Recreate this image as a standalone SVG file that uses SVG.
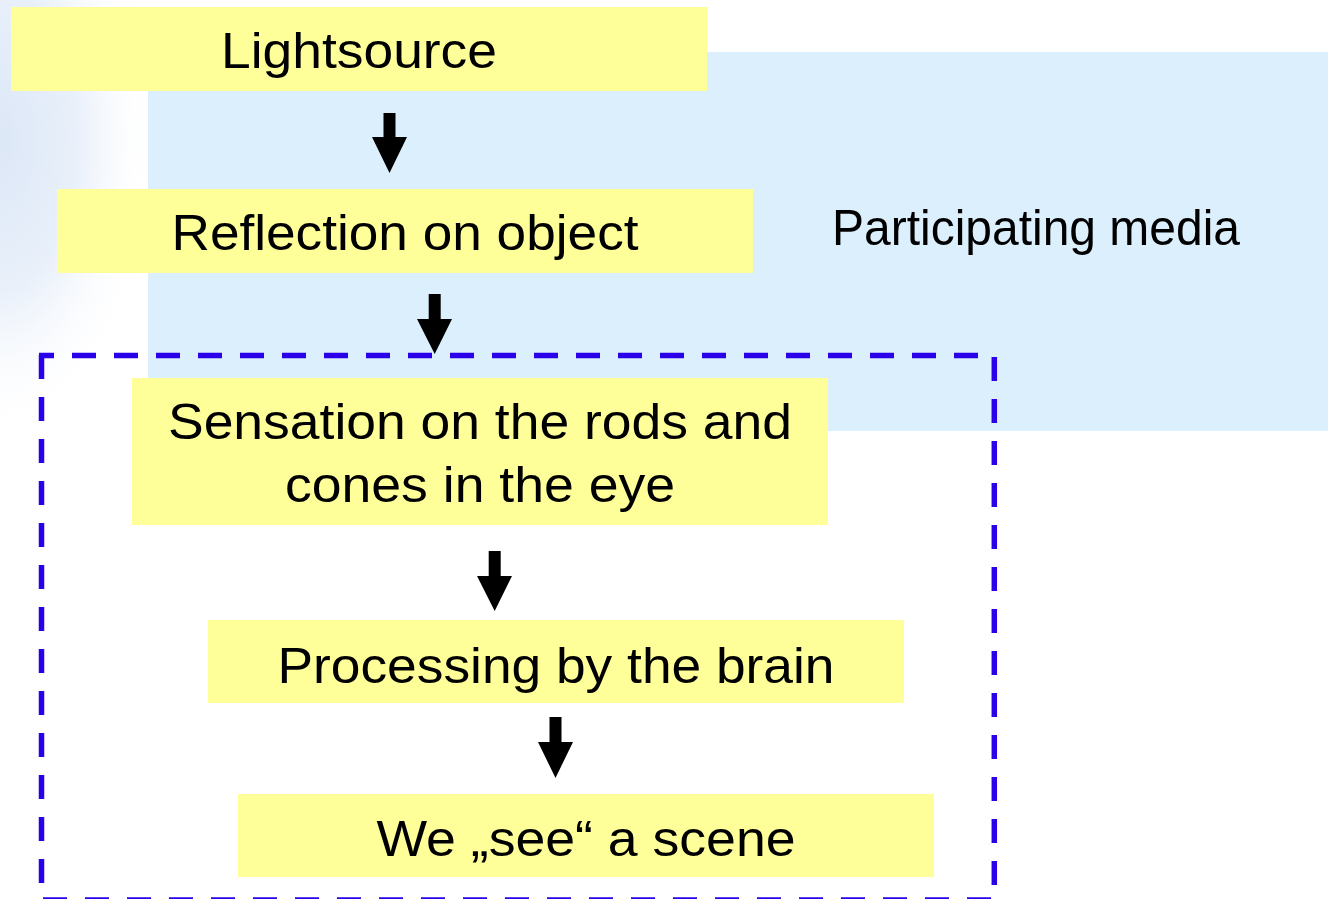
<svg xmlns="http://www.w3.org/2000/svg" width="1332" height="899" viewBox="0 0 1332 899">
  <defs>
    <radialGradient id="sky" cx="0" cy="140" r="240" gradientUnits="userSpaceOnUse" gradientTransform="translate(0,140) scale(0.65,1.25) translate(0,-140)">
      <stop offset="0" stop-color="#dce7f7"/>
      <stop offset="0.5" stop-color="#e9f0fa"/>
      <stop offset="1" stop-color="#ffffff" stop-opacity="0"/>
    </radialGradient>
    <style>
      .box { fill: #ffff99; }
      .media { fill: #dbeffd; }
      .t { font-family: "Liberation Sans", Arial, sans-serif; font-size: 50px; fill: #000; text-anchor: middle; }
      .dash { stroke: #2a00e8; stroke-width: 5.5; stroke-dasharray: 24 18; fill: none; }
      .arrow { fill: #000; }
    </style>
  </defs>

  <rect x="0" y="0" width="1332" height="899" fill="#ffffff"/>
  <rect x="0" y="0" width="260" height="460" fill="url(#sky)"/>

  <g id="participating-media">
    <rect class="media" x="148" y="52" width="1180" height="379"/>
    <text class="t" x="1036" y="245" font-size="45" textLength="408" lengthAdjust="spacingAndGlyphs">Participating media</text>
  </g>

  <g id="perception-frame">
    <line class="dash" x1="41.5" y1="355" x2="41.5" y2="899"/>
    <line class="dash" x1="978" y1="355.5" x2="39" y2="355.5"/>
    <line class="dash" x1="994.3" y1="357" x2="994.3" y2="899"/>
    <line class="dash" x1="43" y1="900" x2="991" y2="900"/>
  </g>

  <g id="lightsource">
    <rect class="box" x="11" y="7" width="696" height="84"/>
    <text class="t" x="359" y="68" textLength="276" lengthAdjust="spacingAndGlyphs">Lightsource</text>
  </g>

  <g id="reflection">
    <rect class="box" x="57" y="189" width="696" height="84"/>
    <text class="t" x="405" y="250" textLength="467" lengthAdjust="spacingAndGlyphs">Reflection on object</text>
  </g>

  <g id="sensation">
    <rect class="box" x="132" y="378" width="696" height="147"/>
    <text class="t" x="480" y="439" textLength="624" lengthAdjust="spacingAndGlyphs">Sensation on the rods and</text>
    <text class="t" x="480" y="502" textLength="390" lengthAdjust="spacingAndGlyphs">cones in the eye</text>
  </g>

  <g id="processing">
    <rect class="box" x="208" y="620" width="696" height="83"/>
    <text class="t" x="556" y="683" textLength="557" lengthAdjust="spacingAndGlyphs">Processing by the brain</text>
  </g>

  <g id="we-see">
    <rect class="box" x="238" y="794" width="696" height="83"/>
    <text class="t" x="586" y="856" textLength="419" lengthAdjust="spacingAndGlyphs">We „see“ a scene</text>
  </g>

  <g id="connectors">
    <path class="arrow" d="M383.5,113 H395.5 V137 H407 L389.5,173 L372,137 H383.5 Z"/>
    <path class="arrow" d="M428.7,294 H440.7 V319 H452 L434.7,354 L417,319 H428.7 Z"/>
    <path class="arrow" d="M488.7,551 H500.7 V576 H512 L494.7,611 L477,576 H488.7 Z"/>
    <path class="arrow" d="M549.5,717 H561.5 V742 H573 L555.5,778 L538,742 H549.5 Z"/>
  </g>
</svg>
